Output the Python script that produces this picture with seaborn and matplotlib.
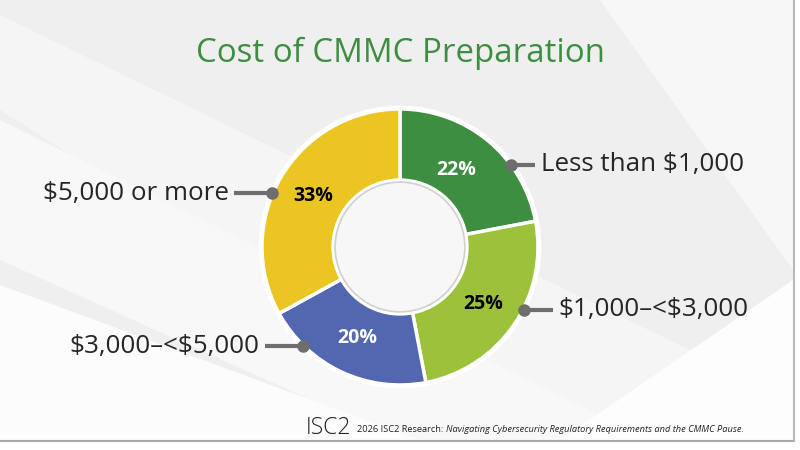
import numpy as np
import matplotlib.pyplot as plt
import seaborn as sns
from matplotlib.patches import Polygon, Rectangle

# data ------------------------------------------
categories = ['Less than $1,000', '$1,000–<$3,000', '$3,000–<$5,000', '$5,000 or more']
shares = [22, 25, 20, 33]
colors = ['#3e8e41', '#9cc23b', '#5366b0', '#ebc522']
pct_colors = ['white', 'black', 'white', 'black']

title = 'Cost of CMMC Preparation'
source_plain = '2026 ISC2 Research: '
source_italic = 'Navigating Cybersecurity Regulatory Requirements and the CMMC Pause.'

# callout layout: angle on the ring (deg), line end x, text side
callouts = [(36.5, 0.98, 'left'), (-26.8, 1.11, 'left'),
            (-134.4, -0.98, 'right'), (157.2, -1.20, 'right')]

sns.set_theme(style='white')
plt.rcParams['font.family'] = ['Open Sans', 'DejaVu Sans']
plt.rcParams['text.parse_math'] = False

fig = plt.figure(figsize=(8, 4.5), dpi=100)

# background (slide look) ---------------------
bg = fig.add_axes([0, 0, 1, 1])
bg.set_xlim(0, 800)
bg.set_ylim(450, 0)
bg.axis('off')
bg.add_patch(Rectangle((0, 0), 793, 440, color='#efefef', zorder=0))
for pts, c in [([(0, 15), (0, 110), (520, 440), (793, 440), (793, 400)], '#f5f5f5'),
               ([(0, 120), (0, 260), (400, 440), (650, 440)], '#f8f8f8'),
               ([(0, 285), (0, 440), (420, 440)], '#fcfcfc'),
               ([(600, 0), (793, 0), (793, 270)], '#f7f7f7'),
               ([(560, 440), (793, 280), (793, 440)], '#fdfdfd')]:
    bg.add_patch(Polygon(pts, closed=True, color=c, zorder=1, lw=0))
bg.plot([0, 794], [440.5, 440.5], color='#a8a8a8', lw=1.5, zorder=2)
bg.plot([793.5, 793.5], [0, 441], color='#b8b8b8', lw=1.5, zorder=2)

# donut -----------------------------------------
ax = fig.add_axes([0, 0, 1, 1])

wedges, _, autotexts = ax.pie(
    shares, colors=colors, startangle=90, counterclock=False,
    radius=1.0, autopct='%d%%', pctdistance=0.73,
    wedgeprops=dict(width=0.515, edgecolor='white', linewidth=2.5),
    textprops=dict(fontsize=14, fontweight='bold'))
for t, c in zip(autotexts, pct_colors):
    t.set_color(c)
autotexts[0].set_position((0.69 * np.cos(np.radians(54)), 0.69 * np.sin(np.radians(54))))

ax.set_xlim(-400 / 138, 400 / 138)
ax.set_ylim(-203 / 138, 247 / 138)
ax.axis('off')

# outer white rim and soft inner shadow
ax.add_patch(plt.Circle((0, 0), 1.012, fill=False, ec='white', lw=2.5, zorder=3))
ax.add_patch(plt.Circle((0, 0), 0.47, fill=True, fc='#f7f7f7', ec='#d0d0d0', lw=1.2, zorder=3))

for label, (ang, xend, side) in zip(categories, callouts):
    x0 = 1.005 * np.cos(np.radians(ang))
    y0 = 1.005 * np.sin(np.radians(ang))
    ax.plot([x0, xend], [y0, y0], color='#6e6e6e', lw=3, solid_capstyle='butt', zorder=4)
    ax.plot(x0, y0, 'o', color='#6e6e6e', ms=8, zorder=5)
    pad = 0.04 if side == 'left' else -0.04
    ax.text(xend + pad, y0, label, ha=side, va='center', fontsize=18.7,
            color='#262626', zorder=5)

# title / footer ------------------------------
bg.text(400, 53, title, ha='center', va='center', fontsize=23.8, color='#3e8e41')
logo = bg.text(306, 428, 'ISC2', ha='left', va='center', fontsize=16.5,
               color='#222222', fontweight='light')
t1 = bg.annotate(source_plain, xy=(1, 0.45), xycoords=logo, xytext=(4, 0),
                 textcoords='offset points', ha='left', va='center',
                 fontsize=6.7, color='#222222')
bg.annotate(source_italic, xy=(1, 0.5), xycoords=t1, ha='left', va='center',
            fontsize=6.7, color='#222222', style='italic')

fig.savefig('out.png', dpi=100)
